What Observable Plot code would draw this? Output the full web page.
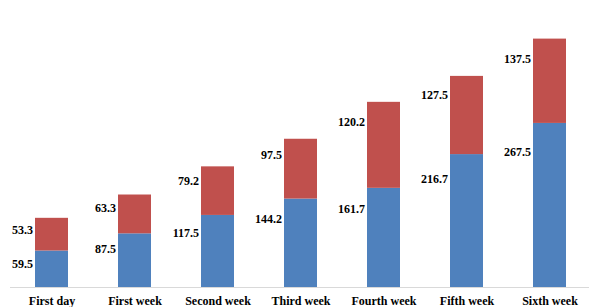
<!DOCTYPE html>
<html>
<head>
<meta charset="utf-8">
<script src="https://cdn.jsdelivr.net/npm/d3@7"></script>
<script src="https://cdn.jsdelivr.net/npm/@observablehq/plot@0.6"></script>
<style>
  html, body { margin: 0; padding: 0; background: #fff; }
  #chart svg { display: block; }
</style>
</head>
<body>
<div id="chart"></div>
<script>
const categories = ["First day", "First week", "Second week", "Third week", "Fourth week", "Fifth week", "Sixth week"];
const blueValues = [59.5, 87.5, 117.5, 144.2, 161.7, 216.7, 267.5];
const redValues = [53.3, 63.3, 79.2, 97.5, 140.2, 127.5, 137.5];
const blueLabels = ["59.5", "87.5", "117.5", "144.2", "161.7", "216.7", "267.5"];
const redLabels = ["53.3", "63.3", "79.2", "97.5", "120.2", "127.5", "137.5"];
const seriesNames = ["Lower", "Upper"];
const seriesColors = ["#4F81BD", "#C0504D"];

const rows = [];
categories.forEach((c, i) => {
  rows.push({cat: c, series: seriesNames[0], y1: 0, y2: blueValues[i], v: blueValues[i], label: blueLabels[i]});
  rows.push({cat: c, series: seriesNames[1], y1: blueValues[i], y2: blueValues[i] + redValues[i], v: redValues[i], label: redLabels[i]});
});
const blueRows = rows.filter(d => d.series === seriesNames[0]);
const redRows = rows.filter(d => d.series === seriesNames[1]);

const font = "Liberation Serif, DejaVu Serif, serif";

const chart = Plot.plot({
  width: 589,
  height: 307,
  marginLeft: 10,
  marginRight: 0,
  marginTop: 11,
  marginBottom: 20,
  style: {fontFamily: font, background: "#fff"},
  x: {domain: categories, paddingInner: 0.6, paddingOuter: 0.275, align: 0.53, label: null},
  y: {domain: [0, 450], axis: null},
  color: {domain: seriesNames, range: seriesColors},
  marks: [
    Plot.ruleY([0], {stroke: "#D9D9D9", strokeWidth: 1.2}),
    Plot.barY(rows, {x: "cat", y1: "y1", y2: "y2", fill: "series"}),
    Plot.text(blueRows, {x: "cat", y: d => d.y2 - 0.12 * d.v, dy: 9, dx: -19, text: "label", textAnchor: "end", fontWeight: "bold", fontSize: 12, fontFamily: font, fill: "#000"}),
    Plot.text(redRows, {x: "cat", y: d => d.y2 - 0.16 * d.v, dy: 6.5, dx: -19, text: "label", textAnchor: "end", fontWeight: "bold", fontSize: 12, fontFamily: font, fill: "#000"}),
    Plot.axisX({tickSize: 0, tickPadding: 9, fontSize: 12, fontWeight: "bold", fontFamily: font, fill: "#000", label: null})
  ]
});
document.getElementById("chart").appendChild(chart);
</script>
</body>
</html>
